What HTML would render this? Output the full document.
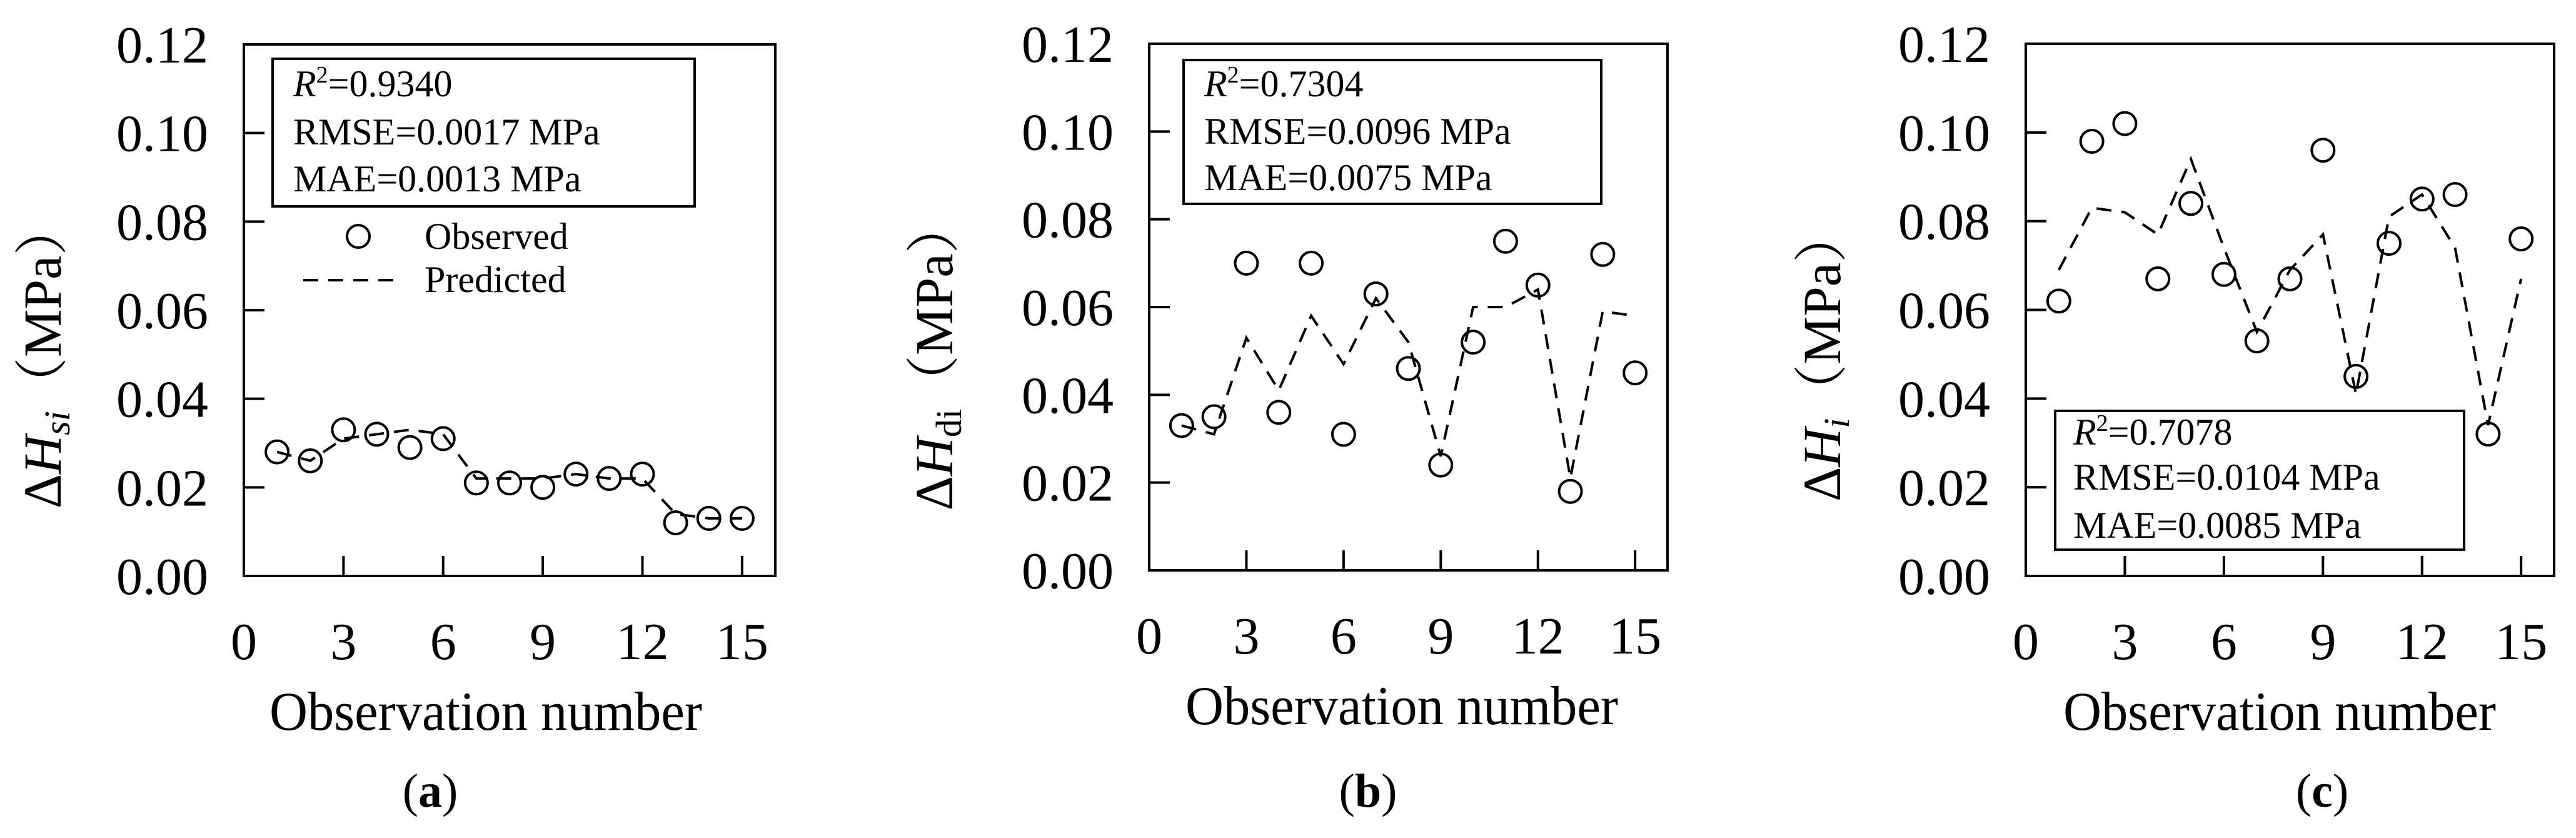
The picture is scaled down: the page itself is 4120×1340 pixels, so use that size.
<!DOCTYPE html>
<html><head><meta charset="utf-8"><style>
html,body{margin:0;padding:0;background:#fff}
svg{display:block}
text{font-family:"Liberation Serif","Noto Serif CJK SC",serif;fill:#000}
</style></head><body>
<svg id="fig" width="4120" height="1340" viewBox="0 0 4120 1340" xmlns="http://www.w3.org/2000/svg"></svg>
<script>
const obsNumbers = [1,2,3,4,5,6,7,8,9,10,11,12,13,14,15];
const xTicks = [3,6,9,12,15];
const xTickLabels = ["0","3","6","9","12","15"];
const yTicks = [0.02,0.04,0.06,0.08,0.10];
const yTickLabels = ["0.00","0.02","0.04","0.06","0.08","0.10","0.12"];
const observedA = [0.028,0.026,0.033,0.032,0.029,0.031,0.021,0.021,0.020,0.023,0.022,0.023,0.012,0.013,0.013];
const predictedA = [0.028,0.026,0.031,0.032,0.033,0.032,0.022,0.022,0.022,0.023,0.022,0.022,0.014,0.013,0.013];
const observedB = [0.033,0.035,0.070,0.036,0.070,0.031,0.063,0.046,0.024,0.052,0.075,0.065,0.018,0.072,0.045];
const predictedB = [0.033,0.031,0.053,0.041,0.058,0.047,0.062,0.052,0.026,0.060,0.060,0.064,0.021,0.059,0.058];
const observedC = [0.062,0.098,0.102,0.067,0.084,0.068,0.053,0.067,0.096,0.045,0.075,0.085,0.086,0.032,0.076];
const predictedC = [0.069,0.083,0.082,0.077,0.094,0.074,0.055,0.069,0.077,0.041,0.081,0.086,0.074,0.034,0.067];
const statsA = ["0.9340","0.0017","0.0013"];
const statsB = ["0.7304","0.0096","0.0075"];
const statsC = ["0.7078","0.0104","0.0085"];

const NS = "http://www.w3.org/2000/svg";
const svg = document.getElementById('fig');
function mk(tag, attrs, parent){
  const e = document.createElementNS(NS, tag);
  for (const k in attrs) e.setAttribute(k, attrs[k]);
  (parent||svg).appendChild(e);
  return e;
}

const panels = [
  {id:'a', x0:390, x1:1240, yTop:71, yBot:921, obs:observedA, pred:predictedA, stats:statsA,
   box:{x:436,y:94,w:675,h:236,tx:469,b:[154,231,306]}, legend:true,
   sub:'si', subItalic:true, ylabX:97, titleX:777, panX:688},
  {id:'b', x0:1838, x1:2667, yTop:70, yBot:912, obs:observedB, pred:predictedB, stats:statsB,
   box:{x:1893,y:96,w:668,h:230,tx:1926,b:[154,230,304]}, legend:false,
   sub:'di', subItalic:false, ylabX:1523, titleX:2242, panX:2188},
  {id:'c', x0:3240, x1:4085, yTop:70, yBot:921, obs:observedC, pred:predictedC, stats:statsC,
   box:{x:3287,y:657,w:654,h:222,tx:3316,b:[711,783,860]}, legend:false,
   sub:'i', subItalic:true, ylabX:2943, titleX:3646, panX:3714}
];

panels.forEach(p => {
  const g = mk('g', {});
  
  
  const sx = v => p.x0 + (v/16)*(p.x1-p.x0);
  const sy = v => p.yBot - (v/0.12)*(p.yBot-p.yTop);

  const frame = mk('rect', {x:p.x0, y:p.yTop, width:p.x1-p.x0, height:p.yBot-p.yTop, fill:'none', stroke:'#000', 'stroke-width':4}, g);
  
  

  yTicks.forEach(v => {
    const t = mk('line', {x1:p.x0, x2:p.x0+33, y1:sy(v), y2:sy(v), stroke:'#000','stroke-width':4}, g);
    
    
  });
  xTicks.forEach(v => {
    const t = mk('line', {x1:sx(v), x2:sx(v), y1:p.yBot, y2:p.yBot-32, stroke:'#000','stroke-width':4}, g);
    
    
  });
  yTickLabels.forEach((s,i) => {
    const t = mk('text', {x:p.x0-57, y:sy(i*0.02)+29, 'font-size':84, 'text-anchor':'end'}, g);
    t.textContent = s;
    
    
  });
  xTickLabels.forEach((s,i) => {
    const t = mk('text', {x:sx(i*3), y:p.yBot+133, 'font-size':84, 'text-anchor':'middle'}, g);
    t.textContent = s;
    
    
  });

  const xt = mk('text', {x:p.titleX, y:p.yBot+246, 'font-size':88, 'text-anchor':'middle', textLength:692, lengthAdjust:'spacingAndGlyphs'}, g);
  xt.textContent = 'Observation number';
  
  

  const yt = mk('text', {x:0, y:0, 'font-size':86, 'text-anchor':'middle', transform:`translate(${p.ylabX},568) rotate(-90)`}, g);
  
  
  const t1 = mk('tspan', {}, yt); t1.textContent = 'Δ';
  const t2 = mk('tspan', {'font-style':'italic'}, yt); t2.textContent = 'H';
  const t3 = mk('tspan', {'font-size':58, dy:14, 'font-style': p.subItalic ? 'italic':'normal'}, yt); t3.textContent = p.sub;
  const t4 = mk('tspan', {dy:-14, 'font-family':'"Noto Serif CJK SC",serif'}, yt); t4.textContent = '（';
  const t5 = mk('tspan', {}, yt); t5.textContent = 'MPa';
  const t6 = mk('tspan', {'font-family':'"Noto Serif CJK SC",serif'}, yt); t6.textContent = '）';

  const pl = mk('text', {x:p.panX, y:1290, 'font-size':76, 'text-anchor':'middle'}, g);
  
  
  const q1 = mk('tspan', {}, pl); q1.textContent = '(';
  const q2 = mk('tspan', {'font-weight':'bold'}, pl); q2.textContent = p.id;
  const q3 = mk('tspan', {}, pl); q3.textContent = ')';

  // predicted dashed line
  const d = p.pred.map((v,i) => (i?'L':'M') + sx(obsNumbers[i]) + ',' + sy(v)).join(' ');
  const line = mk('path', {d:d, fill:'none', stroke:'#000', 'stroke-width':4, 'stroke-dasharray':'24,16'}, g);
  
  

  p.obs.forEach((v,i) => {
    const c = mk('circle', {cx:sx(obsNumbers[i]), cy:sy(v), r:18, fill:'none', stroke:'#000', 'stroke-width':4}, g);
    
    
  });

  // stats box
  const b = p.box;
  const sb = mk('rect', {x:b.x, y:b.y, width:b.w, height:b.h, fill:'none', stroke:'#000', 'stroke-width':4}, g);
  
  
  const r2 = mk('text', {x:b.tx, y:b.b[0], 'font-size':60}, g);
  
  
  const r2a = mk('tspan', {'font-style':'italic'}, r2); r2a.textContent = 'R';
  const r2b = mk('tspan', {'font-size':38, dy:-22}, r2); r2b.textContent = '2';
  const r2c = mk('tspan', {dy:22}, r2); r2c.textContent = '=' + p.stats[0];
  const rm = mk('text', {x:b.tx, y:b.b[1], 'font-size':60}, g);
  rm.textContent = 'RMSE=' + p.stats[1] + ' MPa';
  
  
  const ma = mk('text', {x:b.tx, y:b.b[2], 'font-size':60}, g);
  ma.textContent = 'MAE=' + p.stats[2] + ' MPa';
  
  

  if (p.legend) {
    const lg = mk('g', {}, g);
    
    
    const lc = mk('circle', {cx:573, cy:378, r:18, fill:'none', stroke:'#000', 'stroke-width':4}, lg);
    
    
    const lt1 = mk('text', {x:679, y:398, 'font-size':60}, lg);
    lt1.textContent = 'Observed';
    
    
    const ll = mk('line', {x1:485, x2:643, y1:448, y2:448, stroke:'#000', 'stroke-width':4, 'stroke-dasharray':'24,16'}, lg);
    
    
    const lt2 = mk('text', {x:679, y:467, 'font-size':60}, lg);
    lt2.textContent = 'Predicted';
    
    
  }
});
</script>
</body></html>
